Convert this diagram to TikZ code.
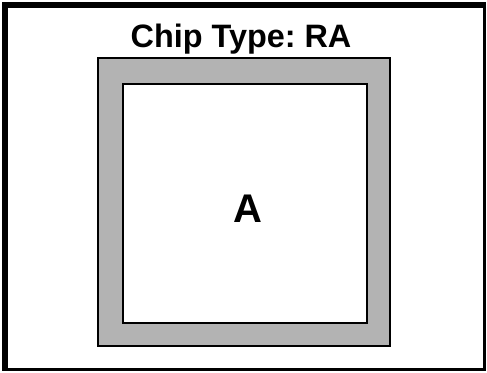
\documentclass[tikz,border=0pt]{standalone}
\usepackage{fontspec}
\setmainfont{Liberation Sans}
\frenchspacing
\definecolor{chipgray}{RGB}{179,179,179}
\begin{document}
\begin{tikzpicture}[x=1pt,y=-1pt,
  framefill/.style={fill=black},
  chipbox/.style={fill=chipgray,draw=black,line width=1.5pt},
  corebox/.style={fill=white,draw=black,line width=2pt},
  titletext/.style={font=\fontsize{32.4}{37}\selectfont\bfseries\frenchspacing,inner sep=0pt,anchor=base},
  coretext/.style={font=\fontsize{40}{46}\selectfont\bfseries,inner sep=0pt,anchor=base}]
\useasboundingbox (0,0) rectangle (487,372);
\fill[white] (0,0) rectangle (487,372);
% outer frame
\fill[framefill] (2,2) rectangle (486,371);
\fill[white] (8,8) rectangle (483,368);
% chip
\draw[chipbox] (97.75,57.75) rectangle (390,346);
\draw[corebox] (123,84) rectangle (366.5,322.5);
\node[titletext] (title) at (241,47) {Chip Type: RA};
\node[coretext] (label) at (248,222.7) {A};
\end{tikzpicture}
\end{document}
